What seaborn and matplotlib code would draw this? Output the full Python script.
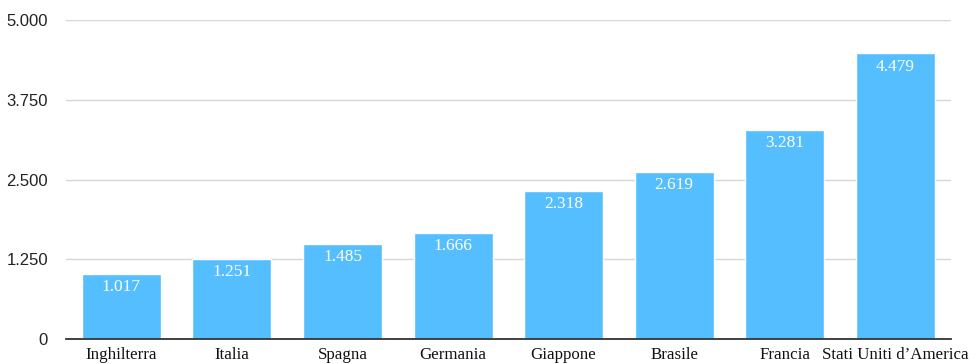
import matplotlib
matplotlib.use("Agg")
import matplotlib.pyplot as plt
import seaborn as sns
import pandas as pd

paesi = ["Inghilterra", "Italia", "Spagna", "Germania", "Giappone",
         "Brasile", "Francia", "Stati Uniti d\u2019America"]
valori = [1017, 1251, 1485, 1666, 2318, 2619, 3281, 4479]
tick_valori = [0, 1250, 2500, 3750, 5000]
tick_etichette = ["0", "1.250", "2.500", "3.750", "5.000"]

df = pd.DataFrame({"paese": paesi, "valore": valori})

sns.set_theme(style="white")
fig = plt.figure(figsize=(9.71, 3.64), dpi=100)
ax = fig.add_axes([0.068, 0.0687, 0.911, 0.876])

sns.barplot(data=df, x="paese", y="valore", color="#55BEFF",
            saturation=1, width=0.715, ax=ax, zorder=3)

ax.set_ylim(0, 5000)
ax.set_xlim(-0.5, len(paesi) - 0.5)
ax.set_yticks(tick_valori)
ax.set_yticklabels(tick_etichette, fontsize=12, family="Liberation Sans",
                   color="#222222")
ax.tick_params(axis="y", length=0, pad=13)
ax.tick_params(axis="x", length=0, pad=6)
for lab in ax.get_xticklabels():
    lab.set_fontfamily("Liberation Serif")
    lab.set_fontsize(12.2)
    lab.set_color("#111111")

ax.yaxis.grid(True, color="#d6d6d6", linewidth=1, zorder=0)
for s in ["top", "right", "left"]:
    ax.spines[s].set_visible(False)
ax.spines["bottom"].set_color("#333333")
ax.spines["bottom"].set_linewidth(1.3)
ax.spines["bottom"].set_zorder(4)
ax.set_xlabel("")
ax.set_ylabel("")

for i, v in enumerate(valori):
    testo = f"{v:,}".replace(",", ".")
    ax.annotate(testo, xy=(i, v), xytext=(0, -9.5), textcoords="offset points",
                ha="center", va="center", color="white", fontsize=12.5,
                family="Liberation Serif", zorder=5)

fig.savefig("out.png", dpi=100, facecolor="white")
